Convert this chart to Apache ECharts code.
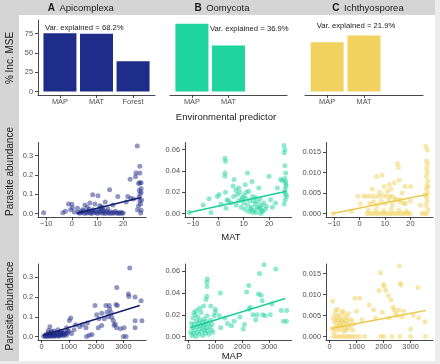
<!DOCTYPE html>
<html>
<head>
<meta charset="utf-8">
<script src="https://cdn.jsdelivr.net/npm/echarts@6/dist/echarts.min.js"></script>
<style>
  html, body { margin: 0; padding: 0; background: #fff; }
  #chart { width: 440px; height: 364px; }
</style>
</head>
<body>
<div id="chart"></div>
<script>
// ---- data ----
const taxa = ['Apicomplexa', 'Oomycota', 'Ichthyosporea'];
const panelTags = ['A', 'B', 'C'];
const varExplained = ['68.2%', '36.9%', '21.9%'];

// % Inc. MSE per predictor
const predApi = ['MAP', 'MAT', 'Forest'];
const predOom = ['MAP', 'MAT'];
const predIch = ['MAP', 'MAT'];
const mseApi = [75.4, 74.8, 39];
const mseOom = [87.4, 59.4];
const mseIch = [63.6, 72.3];
const mseTicks = [0, 25, 50, 75];

// MAT vs abundance
const matApi = [
  [-11, 0.004], [-3.5, 0.004], [-2.5, 0.012], [-1.3, 0.05], [0, 0.048], [0.2, 0.03], [-0.5, 0.02], [1, 0.008], [2.2, 0.028], [2.5, 0.006],
  [3, 0.002], [3.5, 0.01], [4, 0.004], [4.5, 0.015], [5, 0.001], [5.5, 0.008], [6, 0.003], [6.5, 0.012], [7, 0.005], [7.5, 0.001],
  [8, 0.009], [8.5, 0.003], [9, 0.015], [9.5, 0.006], [10, 0.001], [10.5, 0.011], [11, 0.004], [11.5, 0.018], [12, 0.002], [12.5, 0.008],
  [13, 0.001], [13.5, 0.013], [14, 0.005], [14.5, 0.002], [15, 0.009], [15.5, 0.001], [16, 0.006], [16.5, 0.003], [17, 0.012], [17.5, 0.002],
  [18, 0.004], [18.5, 0.001], [19, 0.007], [19.5, 0.002], [20, 0.003], [8.3, 0.02], [6.8, 0.022], [10.7, 0.025], [12.2, 0.016], [4.2, 0.02],
  [5.1, 0.045], [7, 0.055], [8.1, 0.097], [10.2, 0.092], [9, 0.05], [10.9, 0.04], [14.7, 0.123], [17.9, 0.088], [13, 0.06], [16, 0.045],
  [14, 0.025], [12, 0.03], [21.2, 0.06], [22.7, 0.178], [11.5, 0.035], [6, 0.032], [21.8, 0.088], [24, 0.075], [23, 0.08],
  [25.5, 0.35], [25, 0.21], [26.5, 0.21], [26.5, 0.245], [24.8, 0.19], [26.5, 0.16], [26, 0.155], [27, 0.13], [26.6, 0.1], [26.2, 0.085],
  [27.2, 0.07], [26.8, 0.05], [27, 0.018], [26, 0.04], [26.5, 0.065], [27, 0.11], [26.3, 0.12], [27, 0.16], [25.6, 0.02], [26.8, 0.003]
];
const matOom = [
  [-11.6, 0.001], [-6, 0.008], [-3.7, 0.014], [-2.9, 0.001], [-0.4, 0.016], [0.3, 0.018], [1, 0.009], [2.6, 0.052], [2.8, 0.049], [2.6, 0.038],
  [2.6, 0.035], [2.8, 0.02], [3.4, 0.013], [5.8, 0.026], [6.9, 0.022], [6.2, 0.032], [9.2, 0.013], [10.2, 0.017], [11.5, 0.038], [10.6, 0.027],
  [12, 0.021], [13.3, 0.03], [14.6, 0.015], [16, 0.024], [16.5, 0.006], [17, 0.003], [20, 0.035], [20.6, 0.013], [21.3, 0.006], [22.6, 0.01],
  [23.3, 0.024], [24.6, 0.032], [25.2, 0.031],
  [25.9, 0.064], [26.3, 0.06], [26, 0.057], [26.3, 0.045], [26.6, 0.038], [26.3, 0.033], [26.5, 0.03], [26.8, 0.026], [26.4, 0.023], [26.7, 0.018],
  [26.4, 0.013], [26, 0.009], [26.6, 0.028], [26.2, 0.02], [26.9, 0.016],
  [5, 0.01], [6, 0.016], [7, 0.008], [7.5, 0.018], [8, 0.012], [8.5, 0.02], [9, 0.006], [9.5, 0.015], [10, 0.01], [10.5, 0.004],
  [11, 0.014], [11.5, 0.008], [12, 0.002], [12.5, 0.012], [13, 0.006], [13.5, 0.016], [14, 0.003], [14.5, 0.009], [15, 0.001], [15.5, 0.011],
  [16, 0.005], [16.5, 0.014], [17, 0.008], [17.5, 0.002], [18, 0.01], [18.5, 0.004], [19, 0.007], [14, 0.012], [12.8, 0.004], [15.2, 0.006],
  [16.8, 0.0], [13.6, 0.001], [11, 0.02], [8, 0.024], [4, 0.012], [3, 0.005]
];
const matIch = [
  [-10.4, 0.0], [-3.2, 0.0005], [-0.7, 0.0042], [0.3, 0.0024], [1.6, 0.0042], [3, 0.0042], [4.5, 0.0043], [6, 0.0041], [7.5, 0.0042], [9, 0.0044],
  [10.5, 0.0042], [12, 0.0041], [4, 0.0025], [5.5, 0.0028], [7, 0.002], [8.5, 0.003], [10, 0.0024], [11.5, 0.0032], [13, 0.0022], [14.5, 0.0035],
  [16, 0.0028], [17.5, 0.0024], [6.7, 0.009], [8.8, 0.0094], [11.7, 0.0071], [12.3, 0.006], [14.9, 0.0122], [15.3, 0.0112], [15.6, 0.0082], [17.9, 0.0066],
  [20.1, 0.0066], [9.7, 0.0066], [11, 0.0054], [12.9, 0.0042], [14, 0.0034], [16, 0.0034], [20, 0.003], [18, 0.0025], [24, 0.002], [5, 0.006],
  [7.8, 0.0052], [13.6, 0.0075], [16.8, 0.005],
  [3, 0], [4, 0], [5, 0], [6, 0], [7, 0], [8, 0], [9, 0], [10, 0], [11, 0], [12, 0], [13, 0], [14, 0], [15, 0], [16, 0], [17, 0],
  [18, 0], [19, 0], [20, 0], [24.5, 0], [25.5, 0], [26.5, 0], [3.5, 0.0008], [6.5, 0.001], [9.5, 0.0007], [12.5, 0.0012], [15.5, 0.0009], [18.5, 0.0006],
  [26, 0.0164], [26.6, 0.0155], [26.3, 0.0128], [26.8, 0.012], [26.4, 0.011], [26.7, 0.01], [26.2, 0.009], [26.9, 0.008], [26.5, 0.007], [26.3, 0.006],
  [26.8, 0.005], [26.4, 0.004], [26.6, 0.003], [26.2, 0.002], [26.9, 0.001], [25.8, 0.0045], [27, 0.0065]
];

// MAP vs abundance
const mapApi = [
  [80, 0.002], [120, 0.006], [150, 0.0], [180, 0.012], [200, 0.003], [220, 0.008], [240, 0.018], [260, 0.001], [280, 0.01], [300, 0.004],
  [320, 0.014], [340, 0.002], [360, 0.007], [380, 0.022], [400, 0.005], [420, 0.011], [440, 0.001], [460, 0.016], [480, 0.006], [500, 0.003],
  [520, 0.013], [540, 0.009], [560, 0.02], [580, 0.004], [600, 0.015], [620, 0.008], [640, 0.002], [660, 0.018], [680, 0.011], [700, 0.006],
  [720, 0.024], [740, 0.014], [760, 0.009], [780, 0.019], [800, 0.004], [820, 0.016], [850, 0.012], [880, 0.021], [910, 0.007], [940, 0.017],
  [305, 0.05], [600, 0.034], [725, 0.027], [919, 0.044], [1020, 0.081], [1070, 0.094], [1190, 0.034], [1000, 0.025], [960, 0.03], [450, 0.028],
  [350, 0.025], [250, 0.03], [1100, 0.015],
  [1630, 0.044], [1680, 0.069], [1650, 0.0], [1750, 0.007], [1850, 0.01], [1960, 0.157], [2020, 0.111], [2080, 0.044], [2205, 0.118], [2205, 0.056],
  [2360, 0.157], [2400, 0.123], [2480, 0.157], [2500, 0.14], [2570, 0.098], [2630, 0.081], [2660, 0.057], [2700, 0.064], [2730, 0.162], [2757, 0.249],
  [2780, 0.157], [2750, 0.044], [3030, 0.045], [3000, 0.0], [3185, 0.216], [3200, 0.203], [3235, 0.347], [3430, 0.2], [3430, 0.08], [3430, 0.044],
  [3650, 0.181], [3680, 0.08], [2300, 0.09], [2450, 0.1], [2550, 0.12], [1400, 0.05], [1500, 0.06], [1250, 0.06], [2900, 0.04], [3100, 0.0], [2100, 0.09]
];
const mapOom = [
  [80, 0.004], [110, 0.012], [130, 0.001], [150, 0.008], [170, 0.017], [190, 0.003], [210, 0.011], [230, 0.006], [250, 0.02], [270, 0.0],
  [290, 0.014], [310, 0.009], [330, 0.004], [350, 0.018], [370, 0.012], [390, 0.002], [410, 0.007], [430, 0.015], [450, 0.01], [470, 0.022],
  [490, 0.005], [510, 0.013], [530, 0.001], [550, 0.009], [570, 0.016], [590, 0.006], [610, 0.011], [630, 0.003], [650, 0.014], [670, 0.008],
  [690, 0.019], [710, 0.005], [730, 0.012], [760, 0.002], [790, 0.009], [820, 0.015], [850, 0.006], [880, 0.011], [910, 0.004], [300, 0.024],
  [420, 0.026], [200, 0.022], [560, 0.028],
  [685, 0.05], [700, 0.053], [690, 0.046], [680, 0.037], [650, 0.034], [830, 0.028], [1000, 0.025], [1000, 0.022], [1185, 0.04], [950, 0.019],
  [1150, 0.019], [1350, 0.017], [1700, 0.014], [1910, 0.018], [2030, 0.007], [2080, 0.011], [2160, 0.041], [2240, 0.047], [2300, 0.027], [2500, 0.0155],
  [2550, 0.02], [2600, 0.039], [2640, 0.058], [2700, 0.038], [2740, 0.033], [2760, 0.02], [2810, 0.066], [2850, 0.019], [3040, 0.02], [3245, 0.062],
  [3450, 0.024], [3530, 0.014], [3650, 0.024], [3640, 0.014], [1200, 0.008], [1450, 0.012], [2250, 0.025], [2400, 0.02], [3100, 0.03], [1600, 0.01]
];
const mapIch = [
  [118, 0.0084], [236, 0.0063], [100, 0.002], [130, 0.0045], [160, 0.001], [180, 0.0035], [200, 0.0055], [220, 0.002], [240, 0.004], [260, 0.0028],
  [280, 0.0048], [300, 0.0015], [320, 0.0038], [340, 0.0025], [360, 0.005], [380, 0.003], [400, 0.0042], [420, 0.0018], [440, 0.0035], [460, 0.0058],
  [480, 0.0025], [500, 0.004], [520, 0.0012], [540, 0.0032], [560, 0.005], [580, 0.0022], [600, 0.0038], [620, 0.0015], [640, 0.003], [660, 0.0045],
  [700, 0.002], [740, 0.0035], [780, 0.0025], [820, 0.004], [860, 0.0015], [900, 0.003], [300, 0.0065], [500, 0.006], [700, 0.0055],
  [150, 0], [250, 0], [350, 0], [450, 0], [550, 0], [650, 0], [750, 0], [850, 0], [950, 0], [1100, 0], [1300, 0], [1900, 0], [2000, 0],
  [2300, 0], [2600, 0], [3000, 0], [3550, 0],
  [942, 0.0091], [1118, 0.0091], [1000, 0.006], [1470, 0.0075], [1630, 0.0064], [1885, 0.0152], [1830, 0.011], [1950, 0.0058], [2000, 0.0124], [2030, 0.012],
  [2080, 0.011], [2180, 0.0097], [2280, 0.0087], [2350, 0.007], [2400, 0.0063], [2590, 0.0168], [2620, 0.0127], [2650, 0.0123], [2570, 0.0063], [2680, 0.0047],
  [2750, 0.006], [3000, 0.0018], [3275, 0.0117], [3300, 0.0045], [3530, 0.0035], [2200, 0.0045], [2450, 0.0055], [1200, 0.004], [1700, 0.0045], [2500, 0.005], [3100, 0.005]
];

// fitted lm lines (ends)
const fitMatApi = [[2, 0.002], [27, 0.083]];
const fitMatOom = [[-11.6, 0.001], [27, 0.021]];
const fitMatIch = [[-10.5, 0.0], [27, 0.0047]];
const fitMapApi = [[60, 0.005], [3600, 0.157]];
const fitMapOom = [[60, 0.008], [3600, 0.035]];
const fitMapIch = [[60, 0.0019], [3560, 0.0062]];

// axis ticks
const matTicks = [-10, 0, 10, 20];
const mapTicks = [0, 1000, 2000, 3000];
const apiTicks = [0, 0.1, 0.2, 0.3];
const oomTicks = [0, 0.02, 0.04, 0.06];
const ichTicks = [0, 0.005, 0.01, 0.015];

// ---- styling ----
const FONT = '"Liberation Sans", Arial, Helvetica, sans-serif';
const INK = '#1a1a1a';
const TICK_TEXT = '#4d4d4d';
const colors = ['#1f2d8a', '#1fd49d', '#f1d25e'];
const lineColors = ['#17206e', '#1ccf97', '#ecc94f'];

const rowBox = [
  { top: 20, height: 75 },
  { top: 142.5, height: 74.5 },
  { top: 264, height: 76 }
];
const barLeft = [38, 170, 305];
const barWidth = [117, 117, 118];
const sctLeft = [38, 185, 326];
const sctWidth = [108, 106.5, 107];

const minus = v => (v < 0 ? '\u2212' + Math.abs(v) : String(v));

function axis(kind, idx, min, max, ticks, fmt, show) {
  return {
    type: 'value',
    gridIndex: idx,
    min: min,
    max: max,
    axisLine: { show: show, onZero: false, lineStyle: { color: INK, width: 0.8 } },
    axisTick: { show: show, length: 3, customValues: ticks, lineStyle: { color: INK, width: 0.8 } },
    axisLabel: {
      show: show,
      customValues: ticks,
      formatter: fmt,
      color: TICK_TEXT,
      fontSize: 7.4,
      fontFamily: FONT,
      margin: kind === 'x' ? 3 : 5
    },
    splitLine: { show: false }
  };
}

const grids = [];
const xAxes = [];
const yAxes = [];
const series = [];

// row 1: bars
const preds = [predApi, predOom, predIch];
const mses = [mseApi, mseOom, mseIch];
for (let c = 0; c < 3; c++) {
  grids.push({ left: barLeft[c], top: rowBox[0].top, width: barWidth[c], height: rowBox[0].height });
  const names = preds[c];
  xAxes.push(axis('x', c, 0.4, 3.6, names.map((n, i) => i + 1), v => names[Math.round(v) - 1] || '', true));
  yAxes.push(axis('y', c, -4.4, 92.4, mseTicks, v => String(v), c === 0));
  series.push({
    type: 'bar',
    xAxisIndex: c,
    yAxisIndex: c,
    barWidth: 33,
    data: names.map((n, i) => [i + 1, mses[c][i]]),
    itemStyle: { color: colors[c] }
  });
}

// rows 2 and 3: scatter + fit
const scatterRows = [
  { data: [matApi, matOom, matIch], fits: [fitMatApi, fitMatOom, fitMatIch], xMin: -13.2, xMax: 28.9, xTicks: matTicks, xFmt: minus },
  { data: [mapApi, mapOom, mapIch], fits: [fitMapApi, fitMapOom, fitMapIch], xMin: -130, xMax: 3830, xTicks: mapTicks, xFmt: v => String(v) }
];
const yRanges = [[-0.0175, 0.3675], [-0.0032, 0.0667], [-0.00083, 0.0173]];
const yTickSets = [apiTicks, oomTicks, ichTicks];
const yDigits = [1, 2, 3];

scatterRows.forEach((row, r) => {
  for (let c = 0; c < 3; c++) {
    const idx = grids.length;
    const box = rowBox[r + 1];
    grids.push({ left: sctLeft[c], top: box.top, width: sctWidth[c], height: box.height });
    xAxes.push(axis('x', idx, row.xMin, row.xMax, row.xTicks, row.xFmt, true));
    yAxes.push(axis('y', idx, yRanges[c][0], yRanges[c][1], yTickSets[c], v => v.toFixed(yDigits[c]), true));
    series.push({
      type: 'scatter',
      xAxisIndex: idx,
      yAxisIndex: idx,
      symbolSize: 5,
      data: row.data[c],
      itemStyle: { color: colors[c], opacity: 0.5 }
    });
    series.push({
      type: 'line',
      xAxisIndex: idx,
      yAxisIndex: idx,
      symbol: 'none',
      data: row.fits[c],
      lineStyle: { color: lineColors[c], width: 1.6 }
    });
  }
});

function label(text, x, y, size, opts) {
  return Object.assign({
    type: 'text',
    x: x,
    y: y,
    style: {
      text: text,
      fontSize: size,
      fontFamily: FONT,
      fill: INK,
      textAlign: 'center',
      textVerticalAlign: 'middle',
      align: 'center',
      verticalAlign: 'middle'
    }
  }, opts || {});
}

const graphics = [
  // frame strips
  { type: 'rect', shape: { x: 0, y: 0, width: 440, height: 364 }, style: { fill: '#ececec' }, z: -10 },
  { type: 'rect', shape: { x: 19, y: 15, width: 416, height: 346 }, style: { fill: '#ffffff' }, z: -9 },
  { type: 'rect', shape: { x: 0, y: 0, width: 435, height: 15 }, style: { fill: '#d5d5d5' }, z: -8 },
  { type: 'rect', shape: { x: 0, y: 0, width: 19, height: 361 }, style: { fill: '#d5d5d5' }, z: -8 },
  // axis titles
  label('Environmental predictor', 226, 117.5, 9.5),
  label('MAT', 231, 237.5, 9.5),
  label('MAP', 232, 356, 9.5),
  label('% Inc. MSE', 10, 58, 10, { rotation: Math.PI / 2 }),
  label('Parasite abundance', 10, 171.5, 10, { rotation: Math.PI / 2 }),
  label('Parasite abundance', 10, 306, 10, { rotation: Math.PI / 2 })
];

// strip headers
const tagEnd = [55, 201.7, 339.5];
panelTags.forEach((t, i) => {
  graphics.push({
    type: 'text', x: tagEnd[i], y: 8.5,
    style: { text: t, fontSize: 10, fontWeight: 'bold', fontFamily: FONT, fill: INK, textAlign: 'right', align: 'right', textVerticalAlign: 'middle', verticalAlign: 'middle' }
  });
  graphics.push({
    type: 'text', x: tagEnd[i] + 4.5, y: 8.5,
    style: { text: taxa[i], fontSize: 9.5, fontFamily: FONT, fill: INK, textAlign: 'left', align: 'left', textVerticalAlign: 'middle', verticalAlign: 'middle' }
  });
});

// variance explained notes
const varPos = [[45, 28, 'left'], [210, 29, 'left'], [356, 26, 'center']];
varExplained.forEach((v, i) => {
  graphics.push({
    type: 'text', x: varPos[i][0], y: varPos[i][1],
    style: {
      text: 'Var. explained = ' + v, fontSize: 7.7, fontFamily: FONT, fill: INK,
      textAlign: varPos[i][2], align: varPos[i][2], textVerticalAlign: 'middle', verticalAlign: 'middle'
    }
  });
});

const chart = echarts.init(document.getElementById('chart'));
chart.setOption({
  animation: false,
  grid: grids,
  xAxis: xAxes,
  yAxis: yAxes,
  series: series,
  graphic: graphics
});
</script>
</body>
</html>
